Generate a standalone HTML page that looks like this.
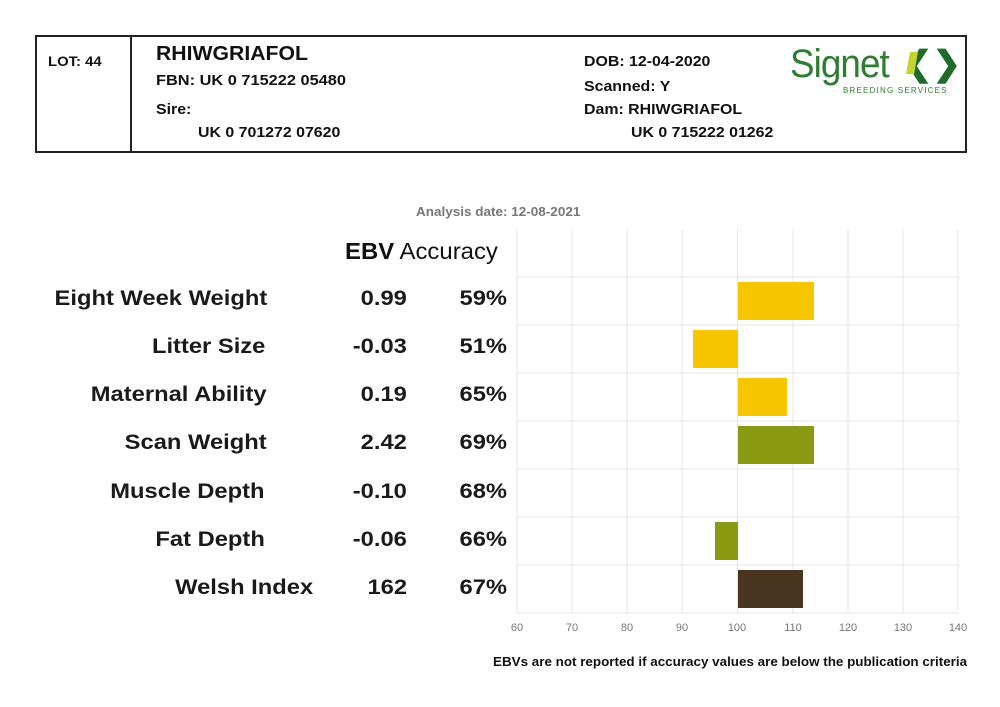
<!DOCTYPE html>
<html><head><meta charset="utf-8"><style>
body{margin:0;width:1000px;height:707px;background:#fff;position:relative;overflow:hidden;font-family:"Liberation Sans",Arial,sans-serif}
.a{position:absolute;white-space:nowrap}
.h{font-weight:bold;font-size:15px;color:#111;transform:scaleX(1.06);transform-origin:left}
.r{font-size:21px;font-weight:bold;color:#1a1a1a;text-align:right;transform:scaleX(1.13);transform-origin:right}
</style></head><body>
<div class="a" style="left:35px;top:35px;width:928px;height:114px;border:2px solid #222"></div>
<div class="a" style="left:130px;top:35px;width:2px;height:116px;background:#222"></div>
<div class="a h" style="left:48px;top:53px;font-size:14px">LOT: 44</div>
<div class="a h" style="left:156px;top:43px;font-size:20px">RHIWGRIAFOL</div>
<div class="a h" style="left:156px;top:72px;transform:scaleX(1.09)">FBN: UK 0 715222 05480</div>
<div class="a h" style="left:156px;top:101px">Sire:</div>
<div class="a h" style="left:198px;top:124px">UK 0 701272 07620</div>
<div class="a h" style="left:584px;top:53px">DOB: 12-04-2020</div>
<div class="a h" style="left:584px;top:78px">Scanned: Y</div>
<div class="a h" style="left:584px;top:101px">Dam: RHIWGRIAFOL</div>
<div class="a h" style="left:631px;top:124px">UK 0 715222 01262</div>
<div class="a" style="left:790px;top:42px;font-size:40px;color:#2e7d32;letter-spacing:-1px;transform:scaleX(0.92);transform-origin:left">Signet</div>
<div class="a" style="left:904px;top:44px;font-size:34px;font-weight:bold;color:#1e6b2a">❮❯</div>
<div class="a" style="left:908px;top:52px;width:8px;height:22px;background:#c6d432;transform:skewX(-10deg)"></div>
<div class="a" style="left:843px;top:86px;font-size:8px;color:#2e7d32;letter-spacing:1.2px">BREEDING SERVICES</div>

<div class="a" style="left:416px;top:205px;font-size:12.5px;font-weight:bold;color:#777;transform:scaleX(1.08);transform-origin:left">Analysis date: 12-08-2021</div>
<div class="a" style="left:345px;top:238px;font-size:23px;color:#111;transform:scaleX(1.04);transform-origin:left"><b>EBV</b> Accuracy</div>

<svg class="a" style="left:0;top:0" width="1000" height="707">
<g stroke="#e4e4e4" stroke-width="1">
<line x1="517" y1="229" x2="517" y2="613"/><line x1="572" y1="229" x2="572" y2="613"/><line x1="627" y1="229" x2="627" y2="613"/><line x1="682" y1="229" x2="682" y2="613"/><line x1="737.5" y1="229" x2="737.5" y2="613"/><line x1="793" y1="229" x2="793" y2="613"/><line x1="848" y1="229" x2="848" y2="613"/><line x1="903" y1="229" x2="903" y2="613"/><line x1="958" y1="229" x2="958" y2="613"/>
<line x1="517" y1="277" x2="958" y2="277"/><line x1="517" y1="325" x2="958" y2="325"/><line x1="517" y1="373" x2="958" y2="373"/><line x1="517" y1="421" x2="958" y2="421"/><line x1="517" y1="469" x2="958" y2="469"/><line x1="517" y1="517" x2="958" y2="517"/><line x1="517" y1="565" x2="958" y2="565"/><line x1="517" y1="613" x2="958" y2="613"/>
</g>
<rect x="738" y="282" width="76" height="38" fill="#f7c600"/>
<rect x="693" y="330" width="45" height="38" fill="#f7c600"/>
<rect x="738" y="378" width="49" height="38" fill="#f7c600"/>
<rect x="738" y="426" width="76" height="38" fill="#8a9a12"/>
<rect x="715" y="522" width="23" height="38" fill="#8a9a12"/>
<rect x="738" y="570" width="65" height="38" fill="#4a3520"/>
<g font-size="11" fill="#777" text-anchor="middle" font-family="Liberation Sans,sans-serif">
<text x="517" y="631">60</text><text x="572" y="631">70</text><text x="627" y="631">80</text><text x="682" y="631">90</text><text x="737" y="631">100</text><text x="793" y="631">110</text><text x="848" y="631">120</text><text x="903" y="631">130</text><text x="958" y="631">140</text>
</g>
</svg>

<div class="a r" style="right:733px;top:287px">Eight Week Weight</div>
<div class="a r" style="right:735px;top:335px">Litter Size</div>
<div class="a r" style="right:733px;top:383px">Maternal Ability</div>
<div class="a r" style="right:733px;top:431px">Scan Weight</div>
<div class="a r" style="right:735px;top:480px">Muscle Depth</div>
<div class="a r" style="right:735px;top:528px">Fat Depth</div>
<div class="a r" style="right:687px;top:576px">Welsh Index</div>

<div class="a r" style="right:593px;top:287px">0.99</div>
<div class="a r" style="right:593px;top:335px">-0.03</div>
<div class="a r" style="right:593px;top:383px">0.19</div>
<div class="a r" style="right:593px;top:431px">2.42</div>
<div class="a r" style="right:593px;top:480px">-0.10</div>
<div class="a r" style="right:593px;top:528px">-0.06</div>
<div class="a r" style="right:593px;top:576px">162</div>

<div class="a r" style="right:493px;top:287px">59%</div>
<div class="a r" style="right:493px;top:335px">51%</div>
<div class="a r" style="right:493px;top:383px">65%</div>
<div class="a r" style="right:493px;top:431px">69%</div>
<div class="a r" style="right:493px;top:480px">68%</div>
<div class="a r" style="right:493px;top:528px">66%</div>
<div class="a r" style="right:493px;top:576px">67%</div>

<div class="a" style="left:493px;top:655px;font-size:12.5px;font-weight:bold;color:#111;transform:scaleX(1.073);transform-origin:left">EBVs are not reported if accuracy values are below the publication criteria</div>
</body></html>
